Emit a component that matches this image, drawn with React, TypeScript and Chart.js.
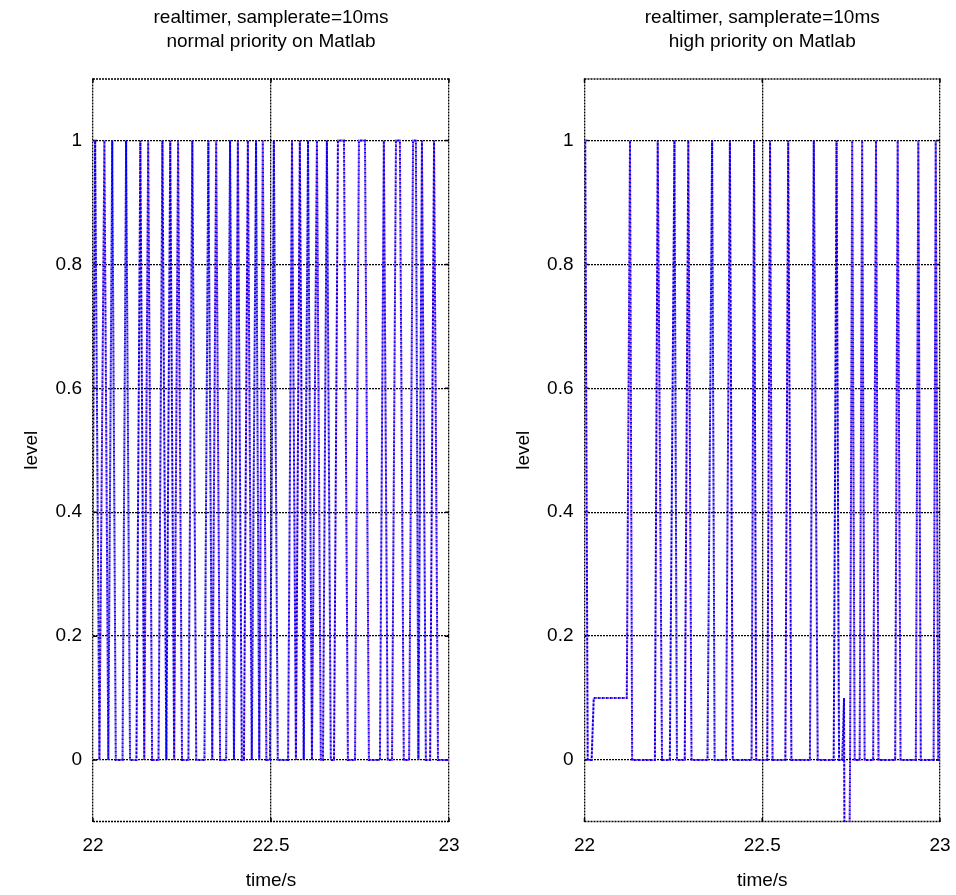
import React, { useEffect, useRef } from 'react';
import { Chart, registerables } from 'chart.js';

Chart.register(...registerables);

const xTicks = [22, 22.5, 23];
const yTicks = [0, 0.2, 0.4, 0.6, 0.8, 1];

const leftTitle = ['realtimer, samplerate=10ms', 'normal priority on Matlab'];
const rightTitle = ['realtimer, samplerate=10ms', 'high priority on Matlab'];

// normal priority: sample times (s) and levels
const leftTimes = [
  21.995, 22.006, 22.018, 22.032, 22.043, 22.054, 22.064, 22.083, 22.093, 22.104,
  22.122, 22.133, 22.144, 22.155, 22.166, 22.184, 22.195, 22.206, 22.217, 22.228,
  22.239, 22.250, 22.268, 22.279, 22.290, 22.313, 22.324, 22.335, 22.346, 22.357,
  22.374, 22.385, 22.396, 22.407, 22.418, 22.424, 22.435, 22.446, 22.458, 22.467,
  22.477, 22.487, 22.497, 22.508, 22.519, 22.548, 22.559, 22.570, 22.581, 22.592,
  22.604, 22.615, 22.629, 22.640, 22.646, 22.657, 22.668, 22.677, 22.688, 22.705,
  22.716, 22.736, 22.747, 22.764, 22.775, 22.806, 22.817, 22.828, 22.840, 22.851,
  22.862, 22.873, 22.888, 22.899, 22.907, 22.914, 22.924, 22.935, 22.947, 22.958,
  22.969, 23.005,
];
const leftLevels = [
  0, 1, 0, 1, 0, 1, 0, 0, 1, 0,
  0, 1, 0, 1, 0, 0, 1, 0, 1, 0,
  1, 0, 0, 1, 0, 0, 1, 0, 1, 0,
  0, 1, 0, 1, 0, 0, 1, 0, 1, 0,
  1, 0, 0, 1, 0, 0, 1, 0, 1, 0,
  1, 0, 1, 0, 0, 1, 0, 0, 1, 1,
  0, 0, 1, 1, 0, 0, 1, 0, 0, 1,
  1, 0, 0, 1, 1, 0, 1, 0, 0, 1,
  0, 0,
];

// high priority: sample times (s) and levels
const rightTimes = [
  21.995, 22.002, 22.009, 22.020, 22.026, 22.119, 22.128, 22.134, 22.198, 22.206,
  22.218, 22.240, 22.253, 22.260, 22.282, 22.292, 22.301, 22.346, 22.359, 22.366,
  22.398, 22.409, 22.417, 22.470, 22.477, 22.483, 22.514, 22.522, 22.529, 22.565,
  22.573, 22.582, 22.634, 22.645, 22.656, 22.701, 22.709, 22.716, 22.725, 22.730,
  22.736, 22.747, 22.753, 22.760, 22.774, 22.781, 22.788, 22.812, 22.820, 22.827,
  22.874, 22.881, 22.889, 22.932, 22.939, 22.946, 22.982, 22.988, 22.995, 23.005,
];
const rightLevels = [
  1, 1, 0, 0, 0.1, 0.1, 1, 0, 0, 1,
  0, 0, 1, 0, 0, 1, 0, 0, 1, 0,
  0, 1, 0, 0, 1, 0, 0, 1, 0, 0,
  1, 0, 0, 1, 0, 0, 1, 0, 0, 0.1,
  -1, 0, 1, 0, 0, 1, 0, 0, 1, 0,
  0, 1, 0, 0, 1, 0, 0, 1, 0, 0,
];

const FONT = 'Liberation Sans, Arial, Helvetica, sans-serif';
const CW = 478;
const CH = 895;
const GRID_DASH = [2, 1];

const boxPlugin = {
  id: 'matlabBox',
  beforeDatasetsDraw(chart: any) {
    const { ctx, chartArea: a, scales } = chart;
    ctx.save();
    ctx.strokeStyle = '#000';
    ctx.lineWidth = 1.5;
    ctx.setLineDash(GRID_DASH);
    ctx.beginPath();
    ctx.moveTo(a.left, a.top + 0.5);
    ctx.lineTo(a.right, a.top + 0.5);
    ctx.moveTo(a.left, a.bottom - 0.5);
    ctx.lineTo(a.right, a.bottom - 0.5);
    ctx.stroke();
    ctx.setLineDash([]);
    ctx.lineWidth = 1.5;
    const tl = 4;
    ctx.beginPath();
    for (const v of xTicks) {
      const px = scales.x.getPixelForValue(v);
      ctx.moveTo(px, a.top);
      ctx.lineTo(px, a.top + tl);
      ctx.moveTo(px, a.bottom);
      ctx.lineTo(px, a.bottom - tl);
    }
    for (const v of yTicks) {
      const py = scales.y.getPixelForValue(v);
      ctx.moveTo(a.left, py);
      ctx.lineTo(a.left + tl, py);
      ctx.moveTo(a.right, py);
      ctx.lineTo(a.right - tl, py);
    }
    ctx.stroke();
    ctx.restore();
  },
};

type SubplotProps = {
  times: number[];
  levels: number[];
  title: string[];
  left: number;
  axisWidth: number;
  rightPad: number;
  yTitlePad: number;
};

function Subplot({ times, levels, title, left, axisWidth, rightPad, yTitlePad }: SubplotProps) {
  const ref = useRef<HTMLCanvasElement>(null);
  useEffect(() => {
    const pts = times.map((t, i) => ({ x: t, y: levels[i] }));
    const chart = new Chart(ref.current as HTMLCanvasElement, {
      type: 'line',
      data: {
        datasets: [
          {
            data: pts,
            borderColor: '#0000ff',
            borderWidth: 2,
            borderDash: [2, 2],
            pointRadius: 0,
            tension: 0,
            fill: false,
          },
          {
            data: pts,
            borderColor: 'rgb(150, 70, 210)',
            borderWidth: 2,
            borderDash: [1.5, 2.5],
            borderDashOffset: 2,
            pointRadius: 0,
            tension: 0,
            fill: false,
          },
        ],
      },
      plugins: [boxPlugin],
      options: {
        animation: false,
        responsive: false,
        maintainAspectRatio: false,
        devicePixelRatio: 1,
        layout: { padding: { left: 0, right: rightPad, top: 0, bottom: 0 } },
        plugins: {
          legend: { display: false },
          tooltip: { enabled: false },
          title: {
            display: true,
            text: title,
            fullSize: false,
            color: '#000',
            font: { family: FONT, size: 19, weight: 'normal', lineHeight: '24px' },
            padding: { top: 6, bottom: 24.5 },
          },
        },
        scales: {
          x: {
            type: 'linear',
            min: 22,
            max: 23,
            afterBuildTicks: (s: any) => {
              s.ticks = xTicks.map((v) => ({ value: v }));
            },
            afterFit: (s: any) => {
              s.height = 73;
              s.paddingLeft = 0;
              s.paddingRight = 0;
            },
            grid: { color: '#000', lineWidth: 1.3, drawTicks: false },
            border: { display: false, dash: GRID_DASH },
            ticks: {
              color: '#000',
              font: { family: FONT, size: 19 },
              padding: 12,
              maxRotation: 0,
              autoSkip: false,
              callback: (v: any) => String(Math.round(Number(v) * 10) / 10),
            },
            title: {
              display: true,
              text: 'time/s',
              color: '#000',
              font: { family: FONT, size: 19 },
              padding: { top: 0, bottom: 2.6 },
            },
          },
          y: {
            type: 'linear',
            min: -0.1,
            max: 1.1,
            afterBuildTicks: (s: any) => {
              s.ticks = yTicks.map((v) => ({ value: v }));
            },
            afterFit: (s: any) => {
              s.width = axisWidth;
              s.paddingTop = 0;
              s.paddingBottom = 0;
            },
            grid: { color: '#000', lineWidth: 1.3, drawTicks: false },
            border: { display: false, dash: GRID_DASH },
            ticks: {
              color: '#000',
              font: { family: FONT, size: 19 },
              padding: 11,
              callback: (v: any) => String(Math.round(Number(v) * 10) / 10),
            },
            title: {
              display: true,
              text: 'level',
              color: '#000',
              font: { family: FONT, size: 19 },
              padding: { top: yTitlePad, bottom: 0 },
            },
          },
        },
      },
    } as any);
    return () => chart.destroy();
  }, []);
  return (
    <canvas
      ref={ref}
      width={CW}
      height={CH}
      style={{ position: 'absolute', left, top: 0, width: CW, height: CH }}
    />
  );
}

export default function App() {
  return (
    <div style={{ position: 'absolute', left: 0, top: 0, width: 956, height: 895, background: '#fff' }}>
      <Subplot
        times={leftTimes}
        levels={leftLevels}
        title={leftTitle}
        left={0}
        axisWidth={93}
        rightPad={29}
        yTitlePad={20}
      />
      <Subplot
        times={rightTimes}
        levels={rightLevels}
        title={rightTitle}
        left={478}
        axisWidth={106.5}
        rightPad={16}
        yTitlePad={34}
      />
    </div>
  );
}
